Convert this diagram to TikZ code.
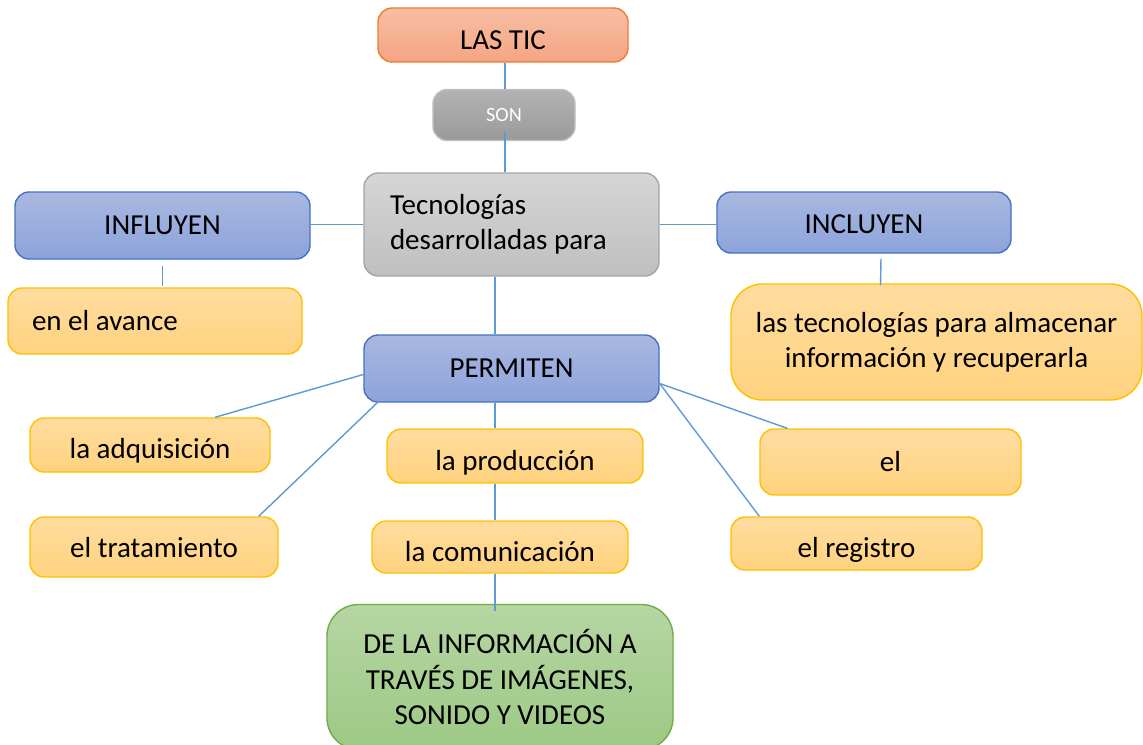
\documentclass[tikz,border=0pt]{standalone}
\usepackage{fontspec}
\setmainfont{Carlito}
\usetikzlibrary{positioning}
\usetikzlibrary{calc}

\definecolor{ticline}{HTML}{ED7D31}
\definecolor{tictop}{HTML}{F8BEA3}
\definecolor{ticbot}{HTML}{F4A583}
\definecolor{sonline}{HTML}{BFBFBF}
\definecolor{sontop}{HTML}{B3B3B3}
\definecolor{sonbot}{HTML}{9A9A9A}
\definecolor{grayline}{HTML}{A5A5A5}
\definecolor{graytop}{HTML}{D6D6D6}
\definecolor{graybot}{HTML}{BFBFBF}
\definecolor{verbline}{HTML}{4472C4}
\definecolor{verbtop}{HTML}{A9B8E1}
\definecolor{verbbot}{HTML}{8CA3DB}
\definecolor{itemline}{HTML}{FFC000}
\definecolor{itemtop}{HTML}{FFDC9F}
\definecolor{itembot}{HTML}{FFD27E}
\definecolor{endline}{HTML}{70AD47}
\definecolor{endtop}{HTML}{B6D6A3}
\definecolor{endbot}{HTML}{9DC985}
\definecolor{link}{HTML}{5B9BD5}

% text sitting lower than the middle of its box
\newcommand{\lowtext}[2]{\raisebox{-#1}[0pt][0pt]{#2}}

\begin{document}
\begin{tikzpicture}
        [
            box/.style={rectangle, rounded corners=8pt, line width=0.8pt, inner sep=2pt,
                        font=\fontsize{16.5}{20}\selectfont},
            title/.style={box, draw=ticline, top color=tictop, bottom color=ticbot},
            son/.style={box, draw=sonline, top color=sontop, bottom color=sonbot,
                        text=white, font=\fontsize{11.5}{14}\selectfont},
            concept/.style={box, draw=grayline, top color=graytop, bottom color=graybot},
            verb/.style={box, draw=verbline, top color=verbtop, bottom color=verbbot},
            item/.style={box, draw=itemline, top color=itemtop, bottom color=itembot},
            final/.style={box, rounded corners=18pt, draw=endline, top color=endtop, bottom color=endbot},
            link/.style={draw=link, line width=0.8pt}
        ]
        \useasboundingbox (0,0) rectangle (22.86,-14.88);
        \clip (0,0) rectangle (22.86,-14.88);
        %nodes
        \node[title, minimum width=5cm, minimum height=1.08cm] at (10.06,-0.70)     (tic)       {\lowtext{8.5pt}{LAS TIC}};
        \node[son, minimum width=2.84cm, minimum height=1.02cm] at (10.08,-2.30)    (son)       {SON};
        \node[concept, minimum width=5.9cm, minimum height=2.06cm, text width=4.86cm,
              align=flush left] at (10.23,-4.49)                                    (tec)       {Tecnologías\\desarrolladas para};
        \node[verb, minimum width=5.9cm, minimum height=1.34cm] at (3.25,-4.51)     (influyen)  {INFLUYEN};
        \node[item, minimum width=5.88cm, minimum height=1.32cm, text width=4.92cm,
              align=flush left] at (3.10,-6.42)                                     (avance)    {en el avance};
        \node[verb, minimum width=5.88cm, minimum height=1.22cm] at (17.28,-4.45)   (incluyen)  {\lowtext{6pt}{INCLUYEN}};
        \node[item, rounded corners=18pt, minimum width=8.22cm, minimum height=2.32cm,
              align=center] at (18.73,-6.84)                                        (almacenar) {las tecnologías para almacenar\\información y recuperarla};
        \node[verb, minimum width=5.9cm, minimum height=1.34cm] at (10.23,-7.37)    (permiten)  {PERMITEN};
        \node[item, minimum width=4.8cm, minimum height=1.08cm] at (3.00,-8.90)     (adquis)    {\lowtext{7.6pt}{la adquisición}};
        \node[item, minimum width=4.96cm, minimum height=1.2cm] at (3.08,-10.94)    (tratam)    {\lowtext{5.7pt}{el tratamiento}};
        \node[item, minimum width=5.12cm, minimum height=1.08cm] at (10.30,-9.12)   (produc)    {\lowtext{8pt}{la producción}};
        \node[item, minimum width=5.12cm, minimum height=1.04cm] at (10.00,-10.94)  (comunic)   {\lowtext{8.5pt}{la comunicación}};
        \node[item, minimum width=5.22cm, minimum height=1.32cm] at (17.81,-9.24)   (el)        {el};
        \node[item, minimum width=5.02cm, minimum height=1.06cm] at (17.13,-10.87)  (registro)  {\lowtext{8pt}{el registro}};
        \node[final, minimum width=6.92cm, minimum height=2.9cm, align=center] at (10.00,-13.54)
                                                                                    (info)      {DE LA INFORMACIÓN A\\TRAVÉS DE IMÁGENES,\\SONIDO Y VIDEOS};
        %lines
        \coordinate (stem) at (10.1,0);
        \coordinate (spine) at (9.9,0);
        \draw[link] (stem |- tic.south) -- (stem |- son.north);
        \draw[link] ($(stem |- son.south)+(0,0.18)$) -- (stem |- tec.north);
        \draw[link] (tec.west) -- (tec.west -| influyen.east);
        \draw[link] (tec.east) -- (tec.east -| incluyen.west);
        \draw[link] ($(influyen.south)+(0,-0.12)$) -- ($(influyen.south)+(0,-0.52)$);
        \draw[link] ($(incluyen.south)+(0.34,-0.1)$) -- ($(almacenar.north)+(-1.12,-0.04)$);
        \draw[link] (spine |- tec.south) -- (spine |- permiten.north);
        \draw[link] ($(permiten.west)+(0,-0.12)$) -- ($(adquis.north)+(1.3,0)$);
        \draw[link] ($(permiten.south west)+(0.28,0)$) -- ($(tratam.north east)+(-0.4,0)$);
        \draw[link] (spine |- permiten.south) -- (spine |- produc.north);
        \draw[link] (spine |- produc.south) -- (spine |- comunic.north);
        \draw[link] (spine |- comunic.south) -- ($(spine |- info.north)+(0,-0.14)$);
        \draw[link] ($(permiten.east)+(0,-0.3)$) -- ($(el.north west)+(0.56,0)$);
        \draw[link] ($(permiten.east)+(0,-0.3)$) -- ($(registro.north west)+(0.58,0)$);
    \end{tikzpicture}
\end{document}
